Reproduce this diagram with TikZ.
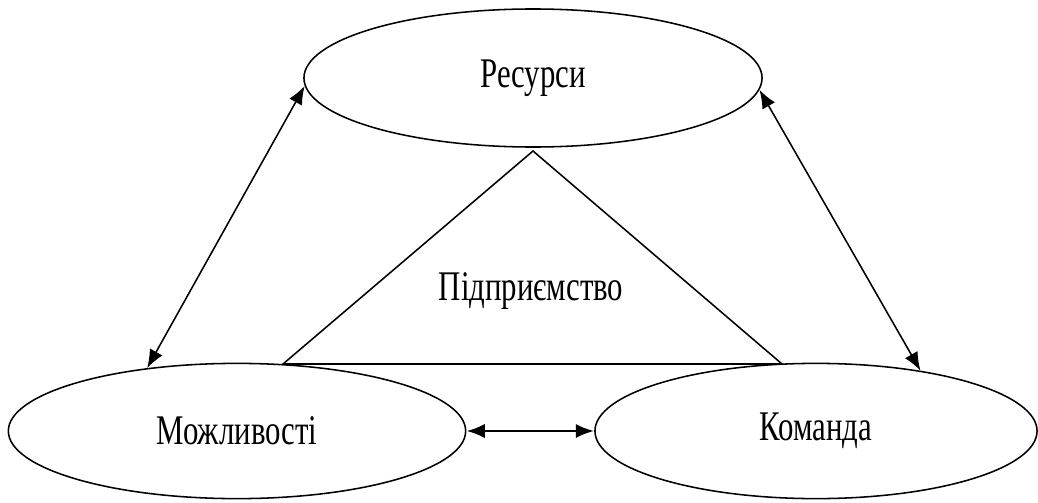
\documentclass[tikz,border=0pt]{standalone}
\usepackage{fontspec}
\setmainfont[FakeStretch=0.73]{Liberation Serif}
\usetikzlibrary{shapes.geometric,arrows.meta}

\begin{document}
\begin{tikzpicture}[x=0.025cm,y=0.025cm,line width=1.1pt,
  oval/.style={draw,ellipse,inner sep=0pt,font=\fontsize{30}{36}\selectfont},
  link/.style={{Latex[length=4.6mm,width=3.6mm]}-{Latex[length=4.6mm,width=3.6mm]}}]
\useasboundingbox (0,0) rectangle (1038,502);

\node[oval,minimum width=11.45cm,minimum height=3.45cm] (res) at (533,424) {Ресурси};
\node[oval,minimum width=11.43cm,minimum height=3.38cm] (mozh) at (237,71) {Можливості};
\node[oval,minimum width=11.05cm,minimum height=3.38cm] (kom) at (816,71) {Команда};

\coordinate (top) at (533,351);
\coordinate (left) at (283,138);
\coordinate (right) at (782,138);
\draw (left) -- (top) -- (right) -- cycle;
\node[anchor=base,font=\fontsize{30}{36}\selectfont] (pidpr) at (531,202) {Підприємство};

\draw[link] (res.182) -- (mozh.145);
\draw[link] (res.-3) -- (kom.30);
\draw[link,line width=2pt] (mozh.east) -- (kom.west);
\end{tikzpicture}
\end{document}
